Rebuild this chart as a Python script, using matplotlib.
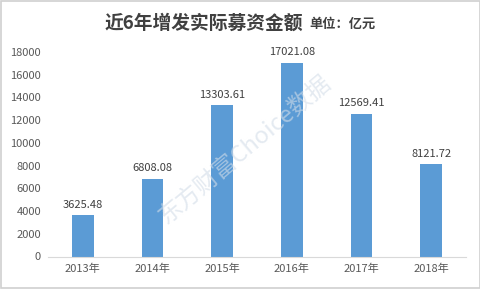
import matplotlib.pyplot as plt
from matplotlib.patches import Rectangle

plt.rcParams['font.family'] = ['Noto Sans CJK SC', 'DejaVu Sans']

years = ['2013年', '2014年', '2015年', '2016年', '2017年', '2018年']
amounts = [3625.48, 6808.08, 13303.61, 17021.08, 12569.41, 8121.72]
labels = ['3625.48', '6808.08', '13303.61', '17021.08', '12569.41', '8121.72']

fig = plt.figure(figsize=(4.81, 2.89), dpi=100)
ax = fig.add_axes([48/481, 1-256.5/289, 418/481, 204.5/289])

x = range(len(years))
ax.bar(x, amounts, width=0.31, color='#5B9BD5')
for i, v in enumerate(amounts):
    ax.text(i, v + 500, labels[i], ha='center', va='bottom', fontsize=8, color='#404040')

ax.set_xlim(-0.5, 5.5)
ax.set_ylim(0, 18000)
ax.set_yticks(range(0, 18001, 2000))
ax.set_xticks(list(x))
ax.set_xticklabels(years)
ax.tick_params(axis='both', length=0, labelsize=8, colors='#595959')
ax.tick_params(axis='y', pad=5)
ax.tick_params(axis='x', pad=5)
for s in ['top', 'right', 'left']:
    ax.spines[s].set_visible(False)
ax.spines['bottom'].set_color('#d9d9d9')

fig.text(204/481, 1-23/289, '近6年增发实际募资金额', ha='center', va='center',
         fontsize=13.5, fontweight='bold', color='#404040')
fig.text(309/481, 1-24/289, '单位：亿元', ha='left', va='center',
         fontsize=9.5, fontweight='bold', color='#404040')

# watermark
fig.text(245/481, 1-150/289, '东方财富Choice数据', ha='center', va='center',
         fontsize=17, rotation=40, color='#d3dde8', alpha=0.6)

fig.patches.append(Rectangle((0.002, 0.003), 0.996, 0.994, transform=fig.transFigure,
                             fill=False, edgecolor='#d0d0d0', linewidth=1.2))

fig.savefig('out.png', dpi=100)
